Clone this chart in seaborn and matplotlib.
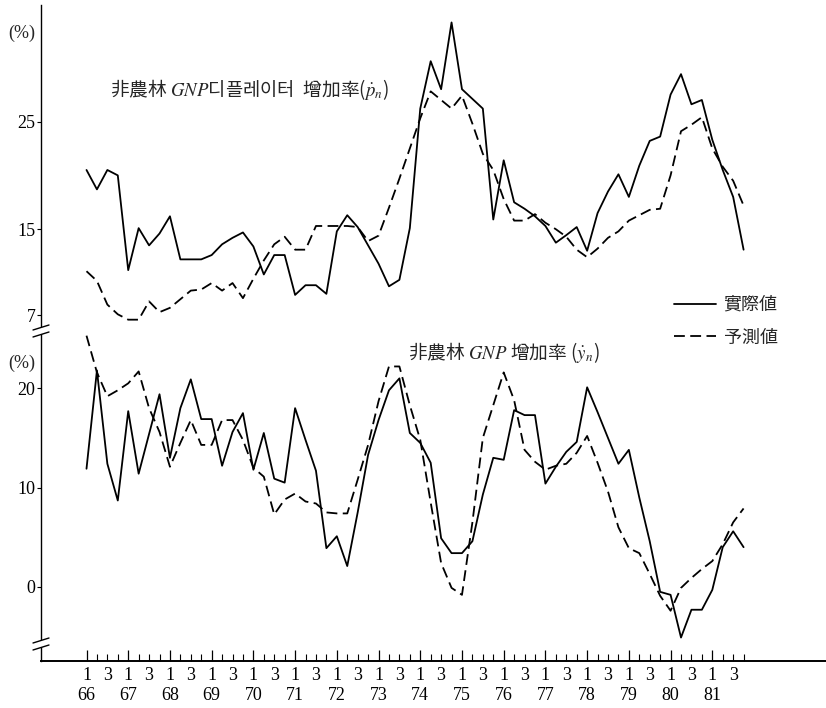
import matplotlib
matplotlib.use("Agg")
import matplotlib.pyplot as plt
import pandas as pd
import seaborn as sns
from matplotlib.lines import Line2D
from matplotlib.patches import Rectangle

W, H = 826, 708

# quarterly data, 1966 Q1 .. 1981 Q4
YEARS = list(range(66, 82))
SERIES = ["實際値", "予測値"]

P_ACTUAL = [
    20.5, 18.7, 20.5, 20.0, 11.2, 15.1, 13.5, 14.6, 16.2, 12.2,
    12.2, 12.2, 12.6, 13.6, 14.2, 14.7, 13.4, 10.8, 12.6, 12.6,
    8.9, 9.8, 9.8, 9.0, 14.8, 16.3, 15.2, 13.5, 11.8, 9.7,
    10.3, 15.1, 26.2, 30.6, 28.0, 34.2, 28.0, 27.1, 26.2, 15.9,
    21.4, 17.5, 16.9, 16.2, 15.3, 13.75, 14.45, 15.2, 13.0, 16.5,
    18.5, 20.1, 18.0, 20.9, 23.2, 23.6, 27.5, 29.4, 26.6, 27.0,
    23.3, 20.5, 18.0, 13.1,
]
P_FORECAST = [
    11.1, 10.2, 8.0, 7.1, 6.6, 6.6, 8.3, 7.3, 7.7, 8.5,
    9.3, 9.4, 10.0, 9.3, 10.0, 8.6, 10.4, 12.1, 13.6, 14.3,
    13.1, 13.1, 15.3, 15.3, 15.3, 15.3, 15.2, 13.9, 14.4, 17.0,
    19.7, 22.5, 25.3, 27.8, 27.0, 26.2, 27.4, 24.8, 22.0, 20.5,
    17.8, 15.8, 15.8, 16.4, 15.6, 15.0, 14.3, 13.1, 12.4, 13.2,
    14.2, 14.8, 15.8, 16.3, 16.8, 16.9, 20.0, 24.1, 24.7, 25.4,
    22.5, 20.8, 19.5, 17.2,
]
Y_ACTUAL = [
    11.9, 21.8, 12.4, 8.7, 17.7, 11.4, 15.4, 19.4, 13.0, 18.0,
    20.9, 16.9, 16.9, 12.2, 15.6, 17.5, 11.8, 15.5, 10.9, 10.5,
    18.0, 14.8, 11.7, 3.9, 5.1, 2.1, 7.5, 13.3, 16.8, 19.8,
    21.0, 15.5, 14.5, 12.5, 4.9, 3.4, 3.4, 4.6, 9.3, 13.0,
    12.8, 17.8, 17.3, 17.3, 10.4, 12.1, 13.6, 14.6, 20.1, 17.6,
    15.0, 12.4, 13.8, 9.0, 4.6, -0.5, -0.8, -5.1, -2.3, -2.3,
    -0.3, 4.0, 5.6, 4.0,
]
Y_FORECAST = [
    25.3, 21.6, 19.2, 19.8, 20.5, 21.7, 18.0, 15.6, 12.1, 14.5,
    16.8, 14.3, 14.3, 16.8, 16.8, 14.8, 12.0, 11.1, 7.3, 8.8,
    9.4, 8.6, 8.4, 7.5, 7.4, 7.4, 10.8, 14.3, 18.7, 22.2,
    22.2, 18.3, 14.8, 8.5, 2.4, -0.1, -0.8, 6.5, 15.0, 18.3,
    21.6, 18.8, 13.8, 12.6, 11.8, 12.2, 12.4, 13.5, 15.2, 12.5,
    9.6, 6.0, 3.9, 3.4, 1.3, -0.9, -2.4, -0.1, 0.9, 1.8,
    2.6, 4.3, 6.5, 7.9,
]

TOP_TICKS = [7, 15, 25]
BOTTOM_TICKS = [0, 10, 20]
TOP_LABEL = "非農林 $GNP$디플레이터  增加率($\\dot{p}_n$)"
BOTTOM_LABEL = "非農林 $GNP$ 增加率 ($\\dot{y}_n$)"

CJK = ["Noto Sans CJK KR", "DejaVu Sans"]
NUM = "Liberation Serif"


def fx(px):
    return px / W


def fy(py):
    return 1 - py / H


def long_frame(actual, forecast):
    n = len(actual)
    return pd.DataFrame({
        "t": list(range(n)) * 2,
        "value": actual + forecast,
        "series": [SERIES[0]] * n + [SERIES[1]] * n,
    })


def main():
    sns.set_theme(style="white")
    plt.rcParams["font.family"] = CJK
    plt.rcParams["mathtext.fontset"] = "stix"

    fig = plt.figure(figsize=(W / 100, H / 100), dpi=100)
    ax_top = fig.add_axes([fx(41), fy(332), fx(826) - fx(41), fy(5) - fy(332)])
    ax_bot = fig.add_axes([fx(41), fy(661), fx(826) - fx(41), fy(332) - fy(661)])

    dashes = {SERIES[0]: "", SERIES[1]: (6, 3)}
    sns.lineplot(data=long_frame(P_ACTUAL, P_FORECAST), x="t", y="value",
                 style="series", dashes=dashes, color="black", linewidth=1.3,
                 ax=ax_top)
    sns.lineplot(data=long_frame(Y_ACTUAL, Y_FORECAST), x="t", y="value",
                 style="series", dashes=dashes, color="black", linewidth=1.3,
                 ax=ax_bot, legend=False)

    leg = ax_top.get_legend()
    handles = leg.legend_handles
    labels = [t.get_text() for t in leg.get_texts()]
    leg.remove()

    # data index i sits at roughly 86.5 + 10.43 * i pixels
    xlim = ((41 - 86.5) / 10.43, (826 - 86.5) / 10.43)
    ax_top.set_xlim(*xlim)
    ax_bot.set_xlim(*xlim)
    ax_top.set_ylim(15.67 - (332 - 222) / 10.77, 15.67 + (222 - 5) / 10.77)
    ax_bot.set_ylim(10 - (661 - 487.6) / 9.93, 10 + (487.6 - 332) / 9.93)

    for ax in (ax_top, ax_bot):
        ax.set_xlabel("")
        ax.set_ylabel("")
        for side in ("top", "right"):
            ax.spines[side].set_visible(False)
        ax.spines["left"].set_color("black")
        ax.spines["left"].set_linewidth(1.0)
        ax.tick_params(axis="y", direction="out", length=3, width=0.8,
                       pad=1, labelsize=13, colors="black", left=True)
        ax.patch.set_alpha(0)

    ax_top.spines["bottom"].set_visible(False)
    ax_top.set_xticks([])
    ax_top.set_yticks(TOP_TICKS, [str(v) for v in TOP_TICKS])
    ax_bot.set_yticks(BOTTOM_TICKS, [str(v) for v in BOTTOM_TICKS])
    for ax in (ax_top, ax_bot):
        for lab in ax.get_yticklabels():
            lab.set_fontfamily(NUM)

    n = len(P_ACTUAL)
    major = list(range(0, n, 4))
    minor = [i for i in range(n) if i % 4]
    ax_bot.spines["bottom"].set_color("black")
    ax_bot.spines["bottom"].set_linewidth(1.4)
    ax_bot.set_xticks(major, [f"1\n{y}" for y in YEARS])
    ax_bot.set_xticks(minor, ["3" if i % 4 == 2 else "" for i in minor], minor=True)
    ax_bot.tick_params(axis="x", which="major", direction="in", length=8,
                       width=0.9, pad=4, labelsize=13, colors="black", bottom=True)
    ax_bot.tick_params(axis="x", which="minor", direction="in", length=5,
                       width=0.8, pad=4, labelsize=13, colors="black", bottom=True)
    for lab in ax_bot.get_xticklabels(which="both"):
        lab.set_fontfamily(NUM)
        lab.set_linespacing(1.3)

    # axis breaks
    for y0, y1 in ((327, 334), (640, 647)):
        fig.add_artist(Rectangle((fx(36), fy(y1)), fx(46) - fx(36), fy(y0) - fy(y1),
                                 transform=fig.transFigure, facecolor="white",
                                 edgecolor="none", zorder=10))
        for yy in (y0, y1):
            fig.add_artist(Line2D([fx(33), fx(49)], [fy(yy + 3), fy(yy - 2)],
                                  transform=fig.transFigure, color="black",
                                  linewidth=1.0, zorder=11))

    fig.text(fx(22), fy(33), "(%)", ha="center", va="center", fontsize=13,
             family=NUM)
    fig.text(fx(22), fy(363), "(%)", ha="center", va="center", fontsize=13,
             family=NUM)
    fig.text(fx(110), fy(90), TOP_LABEL, ha="left", va="center", fontsize=13.5)
    fig.text(fx(408), fy(352), BOTTOM_LABEL, ha="left", va="center", fontsize=13.5)

    fig.legend(handles, labels, loc="upper left",
               bbox_to_anchor=(fx(674), fy(296)), frameon=False, borderpad=0,
               borderaxespad=0, handlelength=2.3, handletextpad=0.45,
               labelspacing=0.8, prop={"family": CJK, "size": 13})

    fig.savefig("out.png", dpi=100, facecolor="white")
    plt.close(fig)


if __name__ == "__main__":
    main()
